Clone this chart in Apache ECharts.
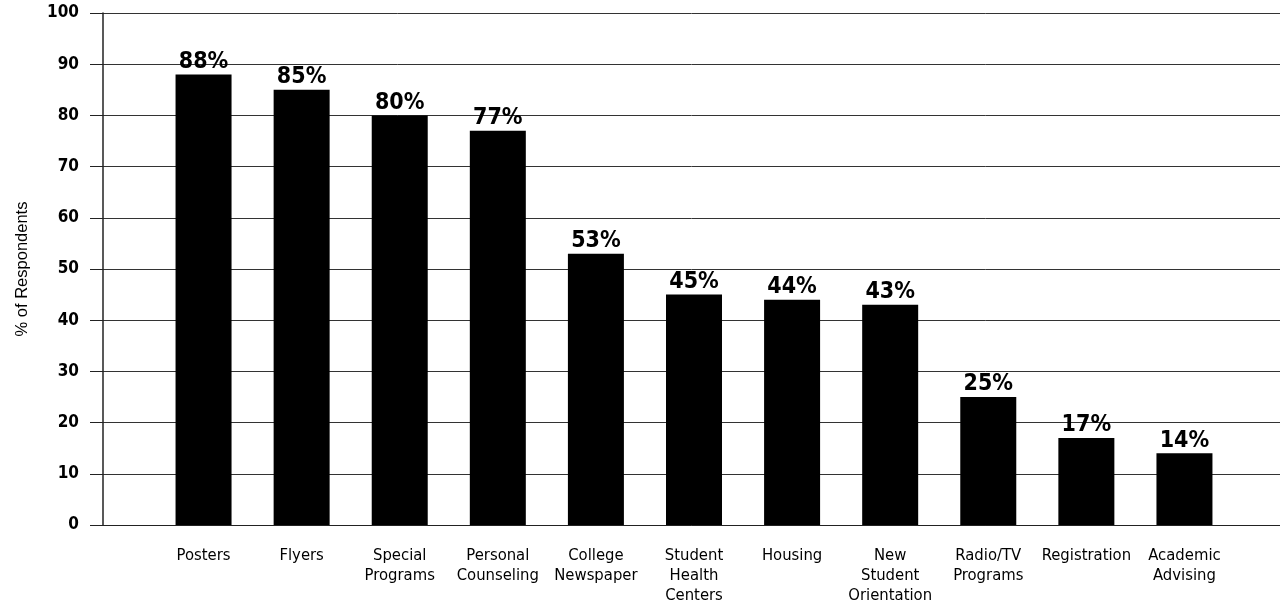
<!DOCTYPE html>
<html><head><meta charset="utf-8">
<script src="https://cdn.jsdelivr.net/npm/echarts@6/dist/echarts.min.js"></script>
<style>html,body{margin:0;padding:0;background:#fff}#c{width:1280px;height:612px}</style>
</head><body><div id="c"></div>
<script>
const categories = ['Posters','Flyers','Special\nPrograms','Personal\nCounseling','College\nNewspaper','Student\nHealth\nCenters','Housing','New\nStudent\nOrientation','Radio/TV\nPrograms','Registration','Academic\nAdvising'];
const values = [88,85,80,77,53,45,44,43,25,17,14];
const yTicks = [0,10,20,30,40,50,60,70,80,90,100];
const yName = '% of Respondents';

const cond = '"Liberation Sans Narrow","DejaVu Sans Condensed","Roboto Condensed",sans-serif';
const chart = echarts.init(document.getElementById('c'));
chart.setOption({
  animation: false,
  grid: [
    {left: 103, right: 0, top: 13, bottom: 87},
    {left: 154.5, right: 46.5, top: 13, bottom: 87}
  ],
  xAxis: [
    {gridIndex: 0, type: 'value', min: 0, max: 1, show: true,
     axisLine: {show: true, lineStyle: {color: '#222', width: 1}}, axisTick: {show: false},
     axisLabel: {show: false}, splitLine: {show: false}},
    {gridIndex: 1, type: 'category', data: categories,
     axisLine: {show: false}, axisTick: {show: false},
     axisLabel: {interval: 0, margin: 21, color: '#000', fontFamily: cond, fontSize: 16.5, lineHeight: 20}}
  ],
  yAxis: [
    {gridIndex: 0, type: 'value', min: yTicks[0], max: yTicks[yTicks.length-1], interval: 10,
     name: yName, nameLocation: 'middle', nameGap: 72, nameRotate: 90,
     nameTextStyle: {color: '#000', fontFamily: 'Liberation Sans, Arial, sans-serif', fontSize: 16.5},
     axisLine: {show: true, lineStyle: {color: '#222', width: 1.5}},
     axisTick: {show: true, inside: false, length: 13, lineStyle: {color: '#222'}},
     axisLabel: {margin: 24, color: '#000', fontFamily: cond, fontSize: 17, fontWeight: 'bold'},
     splitLine: {show: true, lineStyle: {color: '#333', width: 1}}},
    {gridIndex: 1, type: 'value', min: 0, max: 100, show: false}
  ],
  series: [{
    type: 'bar', xAxisIndex: 1, yAxisIndex: 1, data: values, barWidth: 56,
    itemStyle: {color: '#000'},
    label: {show: true, position: 'top', distance: 1, formatter: '{c}%', color: '#000',
            fontFamily: cond, fontSize: 23, fontWeight: 'bold'}
  }]
});
</script></body></html>
